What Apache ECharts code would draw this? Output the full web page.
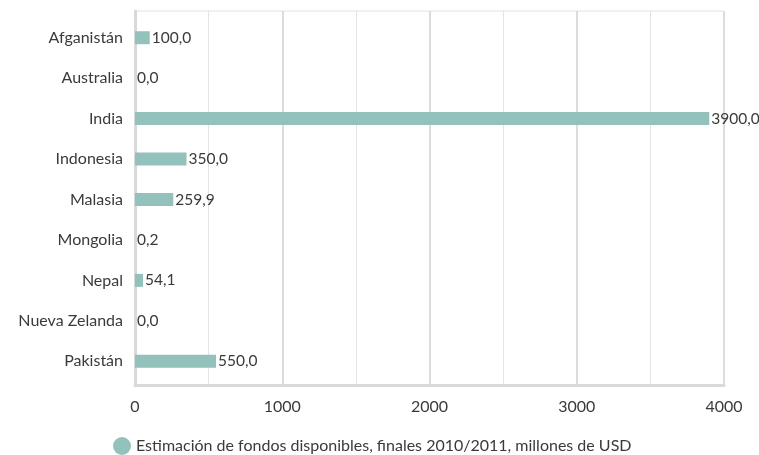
<!DOCTYPE html>
<html>
<head>
<meta charset="utf-8">
<script src="https://cdn.jsdelivr.net/npm/echarts@6/dist/echarts.min.js"></script>
<style>
  html, body { margin: 0; padding: 0; background: #fff; }
  #chart { width: 759px; height: 455px; }
</style>
</head>
<body>
<div id="chart"></div>
<script>
// Countries, listed top to bottom
const categories = ['Afganistán', 'Australia', 'India', 'Indonesia', 'Malasia', 'Mongolia', 'Nepal', 'Nueva Zelanda', 'Pakistán'];
// Estimated available funds, end of 2010/2011, million USD
const fundValues = [100.0, 0.0, 3900.0, 350.0, 259.9, 0.2, 54.1, 0.0, 550.0];
const seriesName = 'Estimación de fondos disponibles, finales 2010/2011, millones de USD';
const xTicks = [0, 1000, 2000, 3000, 4000];

const FONT = 'Lato, "Open Sans", sans-serif';
const TEXT = '#3a3a3a';
const FS = 16;
const AXIS_MAX = xTicks[xTicks.length - 1];

const chart = echarts.init(document.getElementById('chart'), null, { renderer: 'canvas' });

chart.setOption({
  animation: false,
  textStyle: { fontFamily: FONT, color: TEXT },
  grid: [
    // frame with the value axis and gridlines
    { left: 135, right: 35, top: 11, bottom: 70, show: true, borderColor: '#e2e2e2', borderWidth: 1, backgroundColor: 'transparent' },
    // category band area for the bars
    { left: 135, right: 35, top: 17.5, height: 364 }
  ],
  legend: {
    top: 432,
    left: 108,
    icon: 'circle',
    itemWidth: 18,
    itemHeight: 18,
    itemGap: 8,
    textStyle: { fontFamily: FONT, fontSize: FS, color: TEXT },
    data: [seriesName]
  },
  xAxis: [
    {
      gridIndex: 0,
      type: 'value',
      min: xTicks[0],
      max: AXIS_MAX,
      interval: 1000,
      axisLine: { show: true, onZero: false, lineStyle: { color: '#d9d9d9', width: 3 } },
      axisTick: { show: false },
      axisLabel: { fontFamily: FONT, fontSize: FS, color: TEXT, margin: 14, formatter: v => String(v) },
      splitLine: { show: true, lineStyle: { color: '#dcdcdc', width: 2 } },
      minorTick: { show: false, splitNumber: 2 },
      minorSplitLine: { show: true, lineStyle: { color: '#e3e3e3', width: 1 } }
    },
    { gridIndex: 1, type: 'value', min: xTicks[0], max: AXIS_MAX, show: false }
  ],
  yAxis: [
    {
      gridIndex: 0,
      type: 'value',
      min: 0,
      max: 1,
      axisLine: { show: true, onZero: false, lineStyle: { color: '#d9d9d9', width: 3 } },
      axisTick: { show: false },
      axisLabel: { show: false },
      splitLine: { show: false }
    },
    {
      gridIndex: 1,
      type: 'category',
      inverse: true,
      data: categories,
      axisLine: { show: false },
      axisTick: { show: false },
      axisLabel: { fontFamily: FONT, fontSize: FS, color: TEXT, margin: 12 },
      splitLine: { show: false }
    }
  ],
  series: [
    {
      name: seriesName,
      type: 'bar',
      xAxisIndex: 1,
      yAxisIndex: 1,
      data: fundValues,
      barWidth: 13,
      itemStyle: { color: '#93c1bb' },
      label: {
        show: true,
        position: 'right',
        distance: 2,
        fontFamily: FONT,
        fontSize: 15.5,
        color: TEXT,
        formatter: p => p.value.toFixed(1).replace('.', ',')
      }
    }
  ]
});
</script>
</body>
</html>
